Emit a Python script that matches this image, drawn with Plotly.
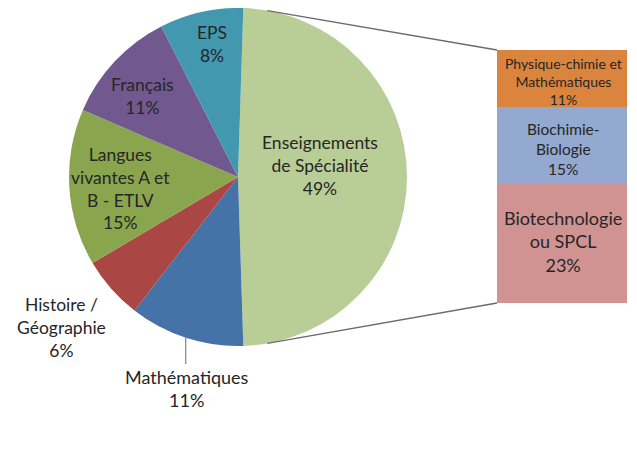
import math
import plotly.graph_objects as go

W, H = 637, 454

# ---- data ----
pie_labels = ["Enseignements de Spécialité", "Mathématiques", "Histoire / Géographie",
              "Langues vivantes A et B - ETLV", "Français", "EPS"]
pie_values = [49, 11, 6, 15, 11, 8]
pie_colors = ["#B9CD96", "#4572A7", "#AA4643", "#89A54E", "#71588F", "#4198AF"]
pie_text_lines = ["Enseignements<br>de Spécialité", "Mathématiques", "Histoire /<br>Géographie",
                  "Langues<br>vivantes A et<br>B - ETLV", "Français", "EPS"]

bar_labels = ["Biotechnologie ou SPCL", "Biochimie-Biologie", "Physique-chimie et Mathématiques"]
bar_values = [23, 15, 11]
bar_colors = ["#D19392", "#93A9CF", "#DB843D"]
bar_text_lines = ["Biotechnologie<br>ou SPCL", "Biochimie-<br>Biologie", "Physique-chimie et<br>Mathématiques"]

# ---- layout geometry (screen pixels) ----
OFF = 8  # page body margin in the browser
CX, CY, R = 238.0, 177.0, 169.0
BX0, BX1, BY_TOP, BY_BOT = 497.0, 627.0, 50.0, 303.0

FONT = "Lato, 'Open Sans', sans-serif"
TXT = "#262626"


def clamp(v):
    return max(0.0, min(1.0, v))


def fx(x):
    return (x - OFF) / W


def fy(y):
    return 1 - (y - OFF) / H


def px(x, y):
    return fx(x), fy(y)


fig = go.Figure()

# rotate so that the "other" slice is centred on 3 o'clock
rotation = 90 - 360 * pie_values[0] / sum(pie_values) / 2

fig.add_trace(go.Pie(
    labels=pie_labels, values=pie_values, sort=False, direction="clockwise",
    rotation=rotation, textinfo="none", hoverinfo="label+percent",
    marker=dict(colors=pie_colors, line=dict(width=0)),
    domain=dict(x=[clamp(fx(CX - R)), clamp(fx(CX + R))],
                y=[clamp(fy(CY + R)), clamp(fy(CY - R))]),
    showlegend=False,
))

for lab, val, col in zip(bar_labels, bar_values, bar_colors):
    fig.add_trace(go.Bar(
        x=[0], y=[val], name=lab, marker=dict(color=col, line=dict(width=0)),
        width=1, xaxis="x2", yaxis="y2", showlegend=False, hoverinfo="name+y",
    ))

# ---- labels ----
pie_label_pos = [  # (x, y centre, font size) per slice
    (320, 165, 17.5), (187, 388, 18), (61, 327, 17.5), (120, 188.5, 17.5), (142, 95.5, 17.5), (212, 43.5, 17.5)
]
annotations = []
for txt, val, (x, y, fs) in zip(pie_text_lines, pie_values, pie_label_pos):
    ax, ay = px(x, y)
    annotations.append(dict(
        x=ax, y=ay, xref="paper", yref="paper", text=f"{txt}<br>{val}%", showarrow=False,
        xanchor="center", yanchor="middle", align="center",
        font=dict(family=FONT, size=fs, color=TXT),
    ))

bar_label_pos = [(563, 241.5, 18), (563, 149, 15.5), (563, 81.5, 14)]
for txt, val, (x, y, fs) in zip(bar_text_lines, bar_values, bar_label_pos):
    ax, ay = px(x, y)
    annotations.append(dict(
        x=ax, y=ay, xref="paper", yref="paper", text=f"{txt}<br>{val}%", showarrow=False,
        xanchor="center", yanchor="middle", align="center",
        font=dict(family=FONT, size=fs, color=TXT),
    ))

# ---- connector / leader lines ----
shapes = []


def pie_point(angle_deg):
    a = math.radians(angle_deg)
    return CX + R * math.sin(a), CY - R * math.cos(a)


p_top = pie_point(10)
p_bot = pie_point(170)
for (x0, y0), (x1, y1) in [(p_top, (BX0, BY_TOP)), (p_bot, (BX0, BY_BOT))]:
    a0, b0 = px(x0, y0)
    a1, b1 = px(x1, y1)
    shapes.append(dict(type="line", xref="paper", yref="paper", x0=a0, y0=b0, x1=a1, y1=b1,
                       line=dict(color="#6a6a6a", width=1.3)))

# leader line for Mathématiques (mid-angle of its slice)
tot = sum(pie_values)
start = rotation + 360 * pie_values[0] / tot
mid = start + 360 * pie_values[1] / tot / 2
mx, my = pie_point(mid)
a0, b0 = px(mx, my)
a1, b1 = px(mx, 364)
shapes.append(dict(type="line", xref="paper", yref="paper", x0=a0, y0=b0, x1=a0, y1=b1,
                   line=dict(color="#6a6a6a", width=1)))

fig.update_layout(
    width=W, height=H, autosize=False,
    margin=dict(l=0, r=0, t=0, b=0),
    paper_bgcolor="white", plot_bgcolor="white",
    barmode="stack", bargap=0,
    xaxis2=dict(domain=[fx(BX0), fx(BX1)], range=[-0.5, 0.5], visible=False, fixedrange=True),
    yaxis2=dict(domain=[fy(BY_BOT), fy(BY_TOP)], range=[0, sum(bar_values)],
                visible=False, fixedrange=True, anchor="x2"),
    annotations=annotations, shapes=shapes,
)

fig.write_html("out.html")
